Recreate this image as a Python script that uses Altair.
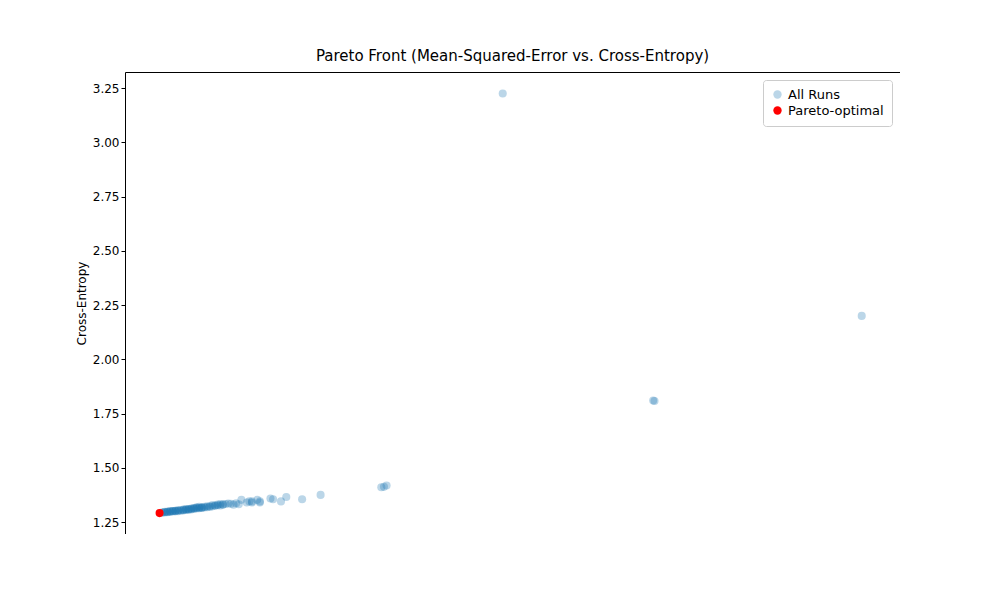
import altair as alt
import pandas as pd

# Mean-squared-error / cross-entropy of all runs
mse = [0.0273, 0.0409, 0.0330, 0.03305, 0.0227, 0.0228, 0.0229, 0.0204, 0.0197,
       0.0191, 0.0189, 0.0186, 0.0185, 0.0181, 0.0180, 0.0178, 0.0177, 0.0174,
       0.0173, 0.0171, 0.0169, 0.0167, 0.0166, 0.0165, 0.0164, 0.0163, 0.0162,
       0.0161, 0.0160, 0.0159, 0.0158, 0.0157, 0.0156, 0.0155, 0.0154, 0.0153,
       0.0152, 0.0151, 0.0150, 0.0149, 0.0148, 0.0147, 0.0146, 0.0145, 0.0144,
       0.0163, 0.0166, 0.0158, 0.0155, 0.0152, 0.0149, 0.0147, 0.0172, 0.0176,
       0.0168, 0.0161, 0.0157, 0.0153, 0.0150, 0.0148, 0.0146, 0.0145,
       0.0144, 0.0145, 0.0146, 0.0147, 0.0148, 0.0149, 0.0150, 0.0151, 0.0152,
       0.0153, 0.0154, 0.0155, 0.0156, 0.0157, 0.0158, 0.0159, 0.0160, 0.0162,
       0.0164, 0.0165, 0.0167, 0.0178, 0.0181, 0.0170, 0.0159, 0.0156, 0.0154]
ce = [3.225, 2.200, 1.810, 1.808, 1.410, 1.412, 1.418, 1.375, 1.355,
      1.365, 1.345, 1.355, 1.358, 1.345, 1.352, 1.340, 1.345, 1.352,
      1.332, 1.330, 1.335, 1.330, 1.326, 1.330, 1.325, 1.322, 1.320,
      1.318, 1.317, 1.315, 1.313, 1.312, 1.310, 1.308, 1.306, 1.305,
      1.303, 1.302, 1.300, 1.299, 1.298, 1.296, 1.295, 1.294, 1.293,
      1.328, 1.333, 1.320, 1.312, 1.307, 1.302, 1.299, 1.336, 1.340,
      1.333, 1.323, 1.318, 1.310, 1.304, 1.301, 1.297, 1.296,
      1.295, 1.297, 1.298, 1.300, 1.301, 1.302, 1.303, 1.305, 1.306,
      1.308, 1.309, 1.311, 1.313, 1.315, 1.316, 1.318, 1.320, 1.322,
      1.326, 1.327, 1.331, 1.345, 1.340, 1.334, 1.316, 1.314, 1.310]
pareto_mse = [0.0143]
pareto_ce = [1.291]

df = pd.concat([
    pd.DataFrame({"mse": mse, "ce": ce, "series": "All Runs"}),
    pd.DataFrame({"mse": pareto_mse, "ce": pareto_ce, "series": "Pareto-optimal"}),
])

chart = alt.Chart(df).mark_circle(size=65).encode(
    x=alt.X("mse:Q", title="Mean-Squared-Error",
            scale=alt.Scale(domain=[0.01299, 0.04235], nice=False, zero=False),
            axis=alt.Axis(values=[0.015, 0.02, 0.025, 0.03, 0.035, 0.04], format=".3f")),
    y=alt.Y("ce:Q", title="Cross-Entropy",
            scale=alt.Scale(domain=[1.1947, 3.324], nice=False, zero=False),
            axis=alt.Axis(values=[1.25, 1.5, 1.75, 2.0, 2.25, 2.5, 2.75, 3.0, 3.25], format=".2f")),
    color=alt.Color("series:N", title=None,
                    scale=alt.Scale(domain=["All Runs", "Pareto-optimal"], range=["#1f77b4", "red"]),
                    legend=alt.Legend(orient="top-right", strokeColor="#cccccc", fillColor="white",
                                      padding=8, cornerRadius=3, labelFontSize=13, symbolSize=70,
                                      offset=8)),
    opacity=alt.Opacity("series:N", scale=alt.Scale(domain=["All Runs", "Pareto-optimal"], range=[0.3, 1.0]),
                        legend=None),
    order=alt.Order("series:N"),
).properties(
    width=775, height=462,
    title="Pareto Front (Mean-Squared-Error vs. Cross-Entropy)",
    autosize=alt.AutoSizeParams(type="none"),
    padding={"left": 117, "top": 64, "right": 0, "bottom": 0},
).configure_view(stroke="black", strokeWidth=1).configure_axis(
    grid=False, domain=False, tickColor="black", labelColor="black", labelFontSize=12,
    titleFontSize=12, titleFontWeight="normal", labelFont="DejaVu Sans", titleFont="DejaVu Sans",
    tickSize=4,
).configure_title(font="DejaVu Sans", fontSize=15, fontWeight="normal", offset=8).configure_legend(
    labelFont="DejaVu Sans")

chart.save("out.html", embed_options={"renderer": "svg", "actions": False})
